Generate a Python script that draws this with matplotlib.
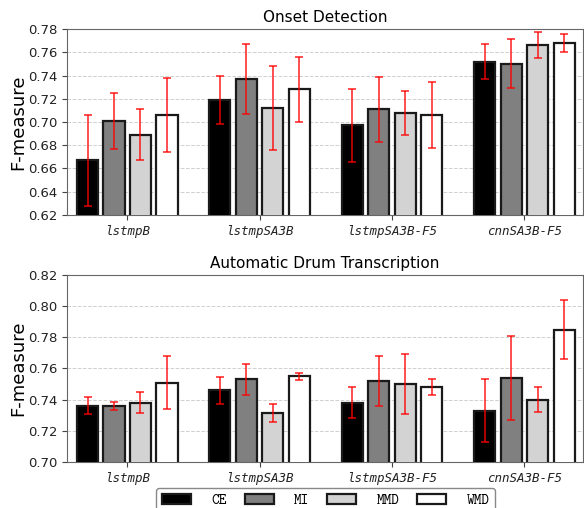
import numpy as np
import matplotlib
matplotlib.use('Agg')
import matplotlib.pyplot as plt

modelos = ['lstmpB', 'lstmpSA3B', 'lstmpSA3B-F5', 'cnnSA3B-F5']
perdidas = ['CE', 'MI', 'MMD', 'WMD']
colores = ['black', '#808080', '#d3d3d3', 'white']

# Onset Detection (media y desviacion)
od_ce = [0.667, 0.719, 0.697, 0.752]
od_mi = [0.701, 0.737, 0.711, 0.750]
od_mmd = [0.689, 0.712, 0.708, 0.766]
od_wmd = [0.706, 0.728, 0.706, 0.768]
od_ce_err = [0.039, 0.021, 0.031, 0.015]
od_mi_err = [0.024, 0.030, 0.028, 0.021]
od_mmd_err = [0.022, 0.036, 0.019, 0.011]
od_wmd_err = [0.032, 0.028, 0.028, 0.008]

# Automatic Drum Transcription
adt_ce = [0.736, 0.746, 0.738, 0.733]
adt_mi = [0.736, 0.753, 0.752, 0.754]
adt_mmd = [0.738, 0.7315, 0.750, 0.740]
adt_wmd = [0.751, 0.755, 0.748, 0.785]
adt_ce_err = [0.0055, 0.0088, 0.010, 0.020]
adt_mi_err = [0.0026, 0.0097, 0.016, 0.027]
adt_mmd_err = [0.0068, 0.0058, 0.019, 0.0082]
adt_wmd_err = [0.017, 0.0024, 0.005, 0.019]

paneles = [
    ('Onset Detection', [od_ce, od_mi, od_mmd, od_wmd],
     [od_ce_err, od_mi_err, od_mmd_err, od_wmd_err], (0.62, 0.78)),
    ('Automatic Drum Transcription', [adt_ce, adt_mi, adt_mmd, adt_wmd],
     [adt_ce_err, adt_mi_err, adt_mmd_err, adt_wmd_err], (0.70, 0.82)),
]

fig = plt.figure(figsize=(5.84, 5.08), dpi=100)
ax1 = fig.add_axes([0.1147, 0.5768, 0.883, 0.3661])
ax2 = fig.add_axes([0.1147, 0.0906, 0.883, 0.3681])

x = np.arange(len(modelos))
ancho = 0.16
paso = 0.2

for ax, (titulo, vals, errs, lims) in zip([ax1, ax2], paneles):
    barras = []
    for i in range(4):
        b = ax.bar(x + (i - 1.5) * paso, vals[i], ancho, yerr=errs[i],
                   color=colores[i], edgecolor='#1a1a1a', linewidth=1.6,
                   ecolor='red', capsize=3.2, zorder=3,
                   error_kw={'alpha': 0.75, 'elinewidth': 1.3, 'capthick': 1.3, 'zorder': 4},
                   label=perdidas[i])
        barras.append(b)
    ax.set_ylim(*lims)
    ax.set_xlim(-0.455, 3.44)
    ticks = np.arange(lims[0], lims[1] + 0.001, 0.02)
    ax.set_yticks(ticks)
    ax.set_yticklabels(['%.2f' % v for v in ticks], fontsize=9.5)
    ax.set_xticks(x)
    ax.set_xticklabels(modelos, family='DejaVu Sans Mono', style='oblique', fontsize=9)
    ax.yaxis.grid(True, linestyle='--', color='#d0d0d0', linewidth=0.7, zorder=0)
    ax.set_axisbelow(True)
    for s in ax.spines.values():
        s.set_color('#666666')
    ax.tick_params(colors='#444444', labelcolor='#222222')
    ax.set_ylabel('F-measure', fontsize=13)
    ax.yaxis.set_label_coords(-0.078, 0.5)
    ax.set_title(titulo, fontsize=11, pad=5)

fig.legend(barras, perdidas, loc='upper center', bbox_to_anchor=(0.558, 0.040),
           borderaxespad=0, ncol=4, prop={'family': 'cmtt10', 'size': 10.5},
           handlelength=2.0, handletextpad=1.4, columnspacing=1.2,
           edgecolor='#888888', framealpha=1)

plt.savefig('out.png', dpi=100)
